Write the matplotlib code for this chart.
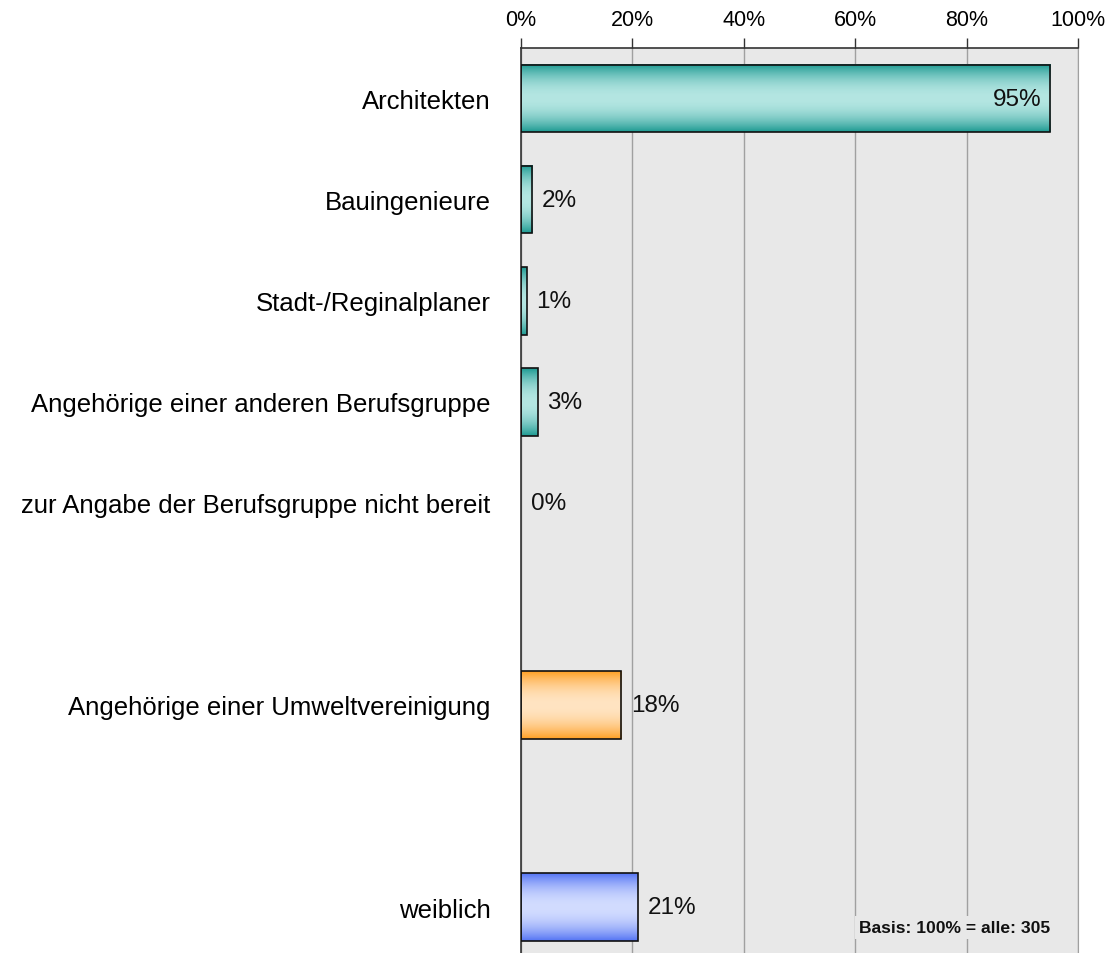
import numpy as np
import matplotlib
matplotlib.use('Agg')
import matplotlib.pyplot as plt

plt.rcParams['font.family'] = ['Liberation Sans', 'DejaVu Sans']

# data
categories = ['Architekten', 'Bauingenieure', 'Stadt-/Reginalplaner',
              'Angehörige einer anderen Berufsgruppe',
              'zur Angabe der Berufsgruppe nicht bereit',
              'Angehörige einer Umweltvereinigung', 'weiblich']
values = [95, 2, 1, 3, 0, 18, 21]
groups = ['beruf', 'beruf', 'beruf', 'beruf', 'beruf', 'umwelt', 'geschlecht']
ticks = [0, 20, 40, 60, 80, 100]
basis_text = 'Basis: 100% = alle: 305'

# colours per group: (dark edge of gradient, light middle)
group_colors = {
    'beruf': ('#1d9a92', '#b4e6e2'),
    'umwelt': ('#ffa024', '#ffe4c2'),
    'geschlecht': ('#5474f4', '#d2dcff'),
}

# positions: one empty slot between groups
pos = []
p = 0
for i, g in enumerate(groups):
    if i > 0 and g != groups[i - 1]:
        p += 1
    pos.append(p)
    p += 1

fig = plt.figure(figsize=(11.09, 9.54), dpi=100)
ax = fig.add_axes([521 / 1109, 0, (1078 - 521) / 1109, 1 - 49 / 954])
ax.set_facecolor('#e8e8e8')

height = 0.67
bars = ax.barh(pos, values, height=height, facecolor='none',
               edgecolor='#111111', linewidth=1.2, zorder=3)


def gradient(dark, light, n=100):
    d = np.array(matplotlib.colors.to_rgb(dark))
    l = np.array(matplotlib.colors.to_rgb(light))
    t = np.linspace(0, 1, n)
    f = 1 - np.abs(2 * t - 1) ** 2.0
    return (d[None, :] + (l - d)[None, :] * f[:, None])[:, None, :]


for b, g in zip(bars, groups):
    x0, y0 = b.get_x(), b.get_y()
    w, h = b.get_width(), b.get_height()
    if w <= 0:
        b.set_visible(False)
        continue
    dark, light = group_colors[g]
    ax.imshow(gradient(dark, light), extent=(x0, x0 + w, y0 + h, y0),
              aspect='auto', zorder=2, interpolation='bilinear')

# value labels
for b, v in zip(bars, values):
    yc = b.get_y() + b.get_height() / 2
    if v > 50:
        ax.annotate(f'{v}%', (v, yc), xytext=(-6, 0), textcoords='offset points',
                    ha='right', va='center', fontsize=17.5, color='#111111', zorder=4)
    else:
        ax.annotate(f'{v}%', (v, yc), xytext=(7, 0), textcoords='offset points',
                    ha='left', va='center', fontsize=17.5, color='#111111', zorder=4)

ax.set_xlim(0, 100)
ax.set_ylim(8.455, -0.5)
ax.set_xticks(ticks)
ax.set_xticklabels([f'{t}%' for t in ticks], fontsize=15.5)
ax.xaxis.tick_top()
ax.tick_params(axis='x', direction='out', length=7, width=1, color='#333333', pad=6)
ax.set_yticks(pos)
ax.set_yticklabels(categories, fontsize=18.5)
ax.tick_params(axis='y', length=0, pad=22)

ax.grid(axis='x', color='#a0a0a0', linewidth=1)
ax.set_axisbelow(True)

ax.spines['bottom'].set_visible(False)
ax.spines['right'].set_color('#a0a0a0')
ax.spines['top'].set_color('#333333')
ax.spines['left'].set_color('#333333')
ax.spines['top'].set_linewidth(1.2)
ax.spines['left'].set_linewidth(1.2)

ax.text(0.607, 0.028, basis_text, transform=ax.transAxes, ha='left', va='center',
        fontsize=12.6, fontweight='bold', color='#111111', zorder=5,
        bbox=dict(facecolor='#e8e8e8', edgecolor='none', pad=3))

fig.savefig('out.png', dpi=100)
